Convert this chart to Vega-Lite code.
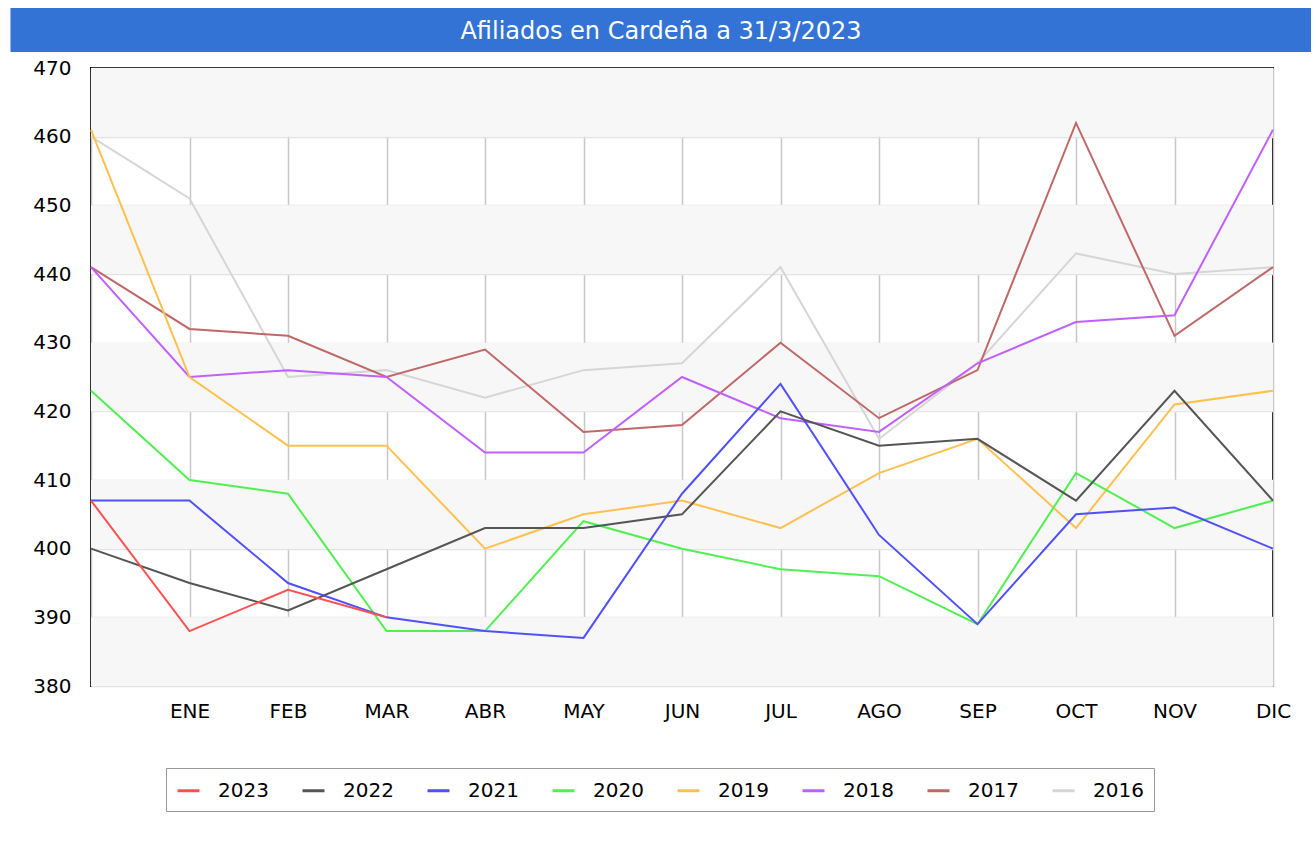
{
  "$schema": "https://vega.github.io/schema/vega-lite/v6.json",
  "padding": {"left": 10, "top": 8, "right": 6, "bottom": 0},
  "background": "white",
  "spacing": 5,
  "config": {"font": "DejaVu Sans", "view": {"stroke": null}},
  "datasets": {
    "bandas": [
      {"desde": 460, "hasta": 470},
      {"desde": 440, "hasta": 450},
      {"desde": 420, "hasta": 430},
      {"desde": 400, "hasta": 410},
      {"desde": 380, "hasta": 390}
    ],
    "afiliados": [
      {"anio": "2016", "mes": "ini", "afiliados": 460},
      {"anio": "2016", "mes": "ENE", "afiliados": 451},
      {"anio": "2016", "mes": "FEB", "afiliados": 425},
      {"anio": "2016", "mes": "MAR", "afiliados": 426},
      {"anio": "2016", "mes": "ABR", "afiliados": 422},
      {"anio": "2016", "mes": "MAY", "afiliados": 426},
      {"anio": "2016", "mes": "JUN", "afiliados": 427},
      {"anio": "2016", "mes": "JUL", "afiliados": 441},
      {"anio": "2016", "mes": "AGO", "afiliados": 416},
      {"anio": "2016", "mes": "SEP", "afiliados": 427},
      {"anio": "2016", "mes": "OCT", "afiliados": 443},
      {"anio": "2016", "mes": "NOV", "afiliados": 440},
      {"anio": "2016", "mes": "DIC", "afiliados": 441},
      {"anio": "2017", "mes": "ini", "afiliados": 441},
      {"anio": "2017", "mes": "ENE", "afiliados": 432},
      {"anio": "2017", "mes": "FEB", "afiliados": 431},
      {"anio": "2017", "mes": "MAR", "afiliados": 425},
      {"anio": "2017", "mes": "ABR", "afiliados": 429},
      {"anio": "2017", "mes": "MAY", "afiliados": 417},
      {"anio": "2017", "mes": "JUN", "afiliados": 418},
      {"anio": "2017", "mes": "JUL", "afiliados": 430},
      {"anio": "2017", "mes": "AGO", "afiliados": 419},
      {"anio": "2017", "mes": "SEP", "afiliados": 426},
      {"anio": "2017", "mes": "OCT", "afiliados": 462},
      {"anio": "2017", "mes": "NOV", "afiliados": 431},
      {"anio": "2017", "mes": "DIC", "afiliados": 441},
      {"anio": "2018", "mes": "ini", "afiliados": 441},
      {"anio": "2018", "mes": "ENE", "afiliados": 425},
      {"anio": "2018", "mes": "FEB", "afiliados": 426},
      {"anio": "2018", "mes": "MAR", "afiliados": 425},
      {"anio": "2018", "mes": "ABR", "afiliados": 414},
      {"anio": "2018", "mes": "MAY", "afiliados": 414},
      {"anio": "2018", "mes": "JUN", "afiliados": 425},
      {"anio": "2018", "mes": "JUL", "afiliados": 419},
      {"anio": "2018", "mes": "AGO", "afiliados": 417},
      {"anio": "2018", "mes": "SEP", "afiliados": 427},
      {"anio": "2018", "mes": "OCT", "afiliados": 433},
      {"anio": "2018", "mes": "NOV", "afiliados": 434},
      {"anio": "2018", "mes": "DIC", "afiliados": 461},
      {"anio": "2019", "mes": "ini", "afiliados": 461},
      {"anio": "2019", "mes": "ENE", "afiliados": 425},
      {"anio": "2019", "mes": "FEB", "afiliados": 415},
      {"anio": "2019", "mes": "MAR", "afiliados": 415},
      {"anio": "2019", "mes": "ABR", "afiliados": 400},
      {"anio": "2019", "mes": "MAY", "afiliados": 405},
      {"anio": "2019", "mes": "JUN", "afiliados": 407},
      {"anio": "2019", "mes": "JUL", "afiliados": 403},
      {"anio": "2019", "mes": "AGO", "afiliados": 411},
      {"anio": "2019", "mes": "SEP", "afiliados": 416},
      {"anio": "2019", "mes": "OCT", "afiliados": 403},
      {"anio": "2019", "mes": "NOV", "afiliados": 421},
      {"anio": "2019", "mes": "DIC", "afiliados": 423},
      {"anio": "2020", "mes": "ini", "afiliados": 423},
      {"anio": "2020", "mes": "ENE", "afiliados": 410},
      {"anio": "2020", "mes": "FEB", "afiliados": 408},
      {"anio": "2020", "mes": "MAR", "afiliados": 388},
      {"anio": "2020", "mes": "ABR", "afiliados": 388},
      {"anio": "2020", "mes": "MAY", "afiliados": 404},
      {"anio": "2020", "mes": "JUN", "afiliados": 400},
      {"anio": "2020", "mes": "JUL", "afiliados": 397},
      {"anio": "2020", "mes": "AGO", "afiliados": 396},
      {"anio": "2020", "mes": "SEP", "afiliados": 389},
      {"anio": "2020", "mes": "OCT", "afiliados": 411},
      {"anio": "2020", "mes": "NOV", "afiliados": 403},
      {"anio": "2020", "mes": "DIC", "afiliados": 407},
      {"anio": "2021", "mes": "ini", "afiliados": 407},
      {"anio": "2021", "mes": "ENE", "afiliados": 407},
      {"anio": "2021", "mes": "FEB", "afiliados": 395},
      {"anio": "2021", "mes": "MAR", "afiliados": 390},
      {"anio": "2021", "mes": "ABR", "afiliados": 388},
      {"anio": "2021", "mes": "MAY", "afiliados": 387},
      {"anio": "2021", "mes": "JUN", "afiliados": 408},
      {"anio": "2021", "mes": "JUL", "afiliados": 424},
      {"anio": "2021", "mes": "AGO", "afiliados": 402},
      {"anio": "2021", "mes": "SEP", "afiliados": 389},
      {"anio": "2021", "mes": "OCT", "afiliados": 405},
      {"anio": "2021", "mes": "NOV", "afiliados": 406},
      {"anio": "2021", "mes": "DIC", "afiliados": 400},
      {"anio": "2022", "mes": "ini", "afiliados": 400},
      {"anio": "2022", "mes": "ENE", "afiliados": 395},
      {"anio": "2022", "mes": "FEB", "afiliados": 391},
      {"anio": "2022", "mes": "MAR", "afiliados": 397},
      {"anio": "2022", "mes": "ABR", "afiliados": 403},
      {"anio": "2022", "mes": "MAY", "afiliados": 403},
      {"anio": "2022", "mes": "JUN", "afiliados": 405},
      {"anio": "2022", "mes": "JUL", "afiliados": 420},
      {"anio": "2022", "mes": "AGO", "afiliados": 415},
      {"anio": "2022", "mes": "SEP", "afiliados": 416},
      {"anio": "2022", "mes": "OCT", "afiliados": 407},
      {"anio": "2022", "mes": "NOV", "afiliados": 423},
      {"anio": "2022", "mes": "DIC", "afiliados": 407},
      {"anio": "2023", "mes": "ini", "afiliados": 407},
      {"anio": "2023", "mes": "ENE", "afiliados": 388},
      {"anio": "2023", "mes": "FEB", "afiliados": 394},
      {"anio": "2023", "mes": "MAR", "afiliados": 390}
    ]
  },
  "vconcat": [
    {
      "width": 1220,
      "height": 44,
      "view": {"fill": "#3473d6", "stroke": null},
      "data": {"values": [{"titulo": "Afiliados en Cardeña a 31/3/2023"}]},
      "mark": {"type": "text", "color": "white", "fontSize": 24, "font": "DejaVu Sans", "dx": -40, "dy": 2},
      "encoding": {
        "text": {"field": "titulo", "type": "nominal"},
        "y": {
          "field": "titulo",
          "type": "nominal",
          "axis": {
            "title": null,
            "labels": false,
            "ticks": false,
            "grid": false,
            "domain": true,
            "domainColor": "#3473d6",
            "domainWidth": 81,
            "offset": 40,
            "translate": 0,
            "minExtent": 40,
            "maxExtent": 40
          }
        }
      }
    },
    {
      "width": 1182,
      "height": 618,
      "view": {"stroke": "#000000", "strokeWidth": 2},
      "layer": [
        {
          "data": {"name": "bandas"},
          "mark": {"type": "rect", "color": "#f7f7f7"},
          "encoding": {
            "y": {"field": "desde", "type": "quantitative", "scale": {"domain": [380, 470], "nice": false}},
            "y2": {"field": "hasta"}
          }
        },
        {
          "data": {"name": "afiliados"},
          "mark": {"type": "line", "strokeWidth": 2},
          "encoding": {
            "x": {
              "field": "mes",
              "type": "ordinal",
              "scale": {"type": "point", "padding": 0, "domain": ["ini", "ENE", "FEB", "MAR", "ABR", "MAY", "JUN", "JUL", "AGO", "SEP", "OCT", "NOV", "DIC"]},
              "axis": {
                "title": null,
                "grid": true,
                "gridColor": "#c8c8c8",
                "gridWidth": 1.5,
                "domain": false,
                "ticks": false,
                "labelAngle": 0,
                "labelPadding": 15,
                "labelFontSize": 20,
                "labelColor": "#000000",
                "labelExpr": "datum.value == 'ini' ? '' : datum.value"
              }
            },
            "y": {
              "field": "afiliados",
              "type": "quantitative",
              "scale": {"domain": [380, 470], "nice": false},
              "axis": {
                "title": null,
                "values": [380, 390, 400, 410, 420, 430, 440, 450, 460, 470],
                "grid": true,
                "gridColor": "#e3e3e3",
                "gridWidth": 1.5,
                "domain": false,
                "ticks": false,
                "labelPadding": 20,
                "labelFontSize": 20,
                "labelColor": "#000000",
                "minExtent": 80
              }
            },
            "color": {
              "field": "anio",
              "type": "nominal",
              "scale": {
                "domain": ["2023", "2022", "2021", "2020", "2019", "2018", "2017", "2016"],
                "range": ["#ff5050", "#555555", "#5050ff", "#50f050", "#ffc050", "#c060ff", "#c06868", "#d6d6d6"]
              },
              "legend": {
                "title": null,
                "orient": "none",
                "legendX": 75,
                "legendY": 760,
                "direction": "horizontal",
                "columns": 8,
                "strokeColor": "#999999",
                "fillColor": "white",
                "padding": 10,
                "symbolType": "stroke",
                "symbolStrokeWidth": 3,
                "symbolSize": 484,
                "labelFontSize": 20,
                "labelColor": "#000000",
                "labelOffset": 17,
                "columnPadding": 27
              }
            }
          }
        }
      ]
    }
  ]
}
